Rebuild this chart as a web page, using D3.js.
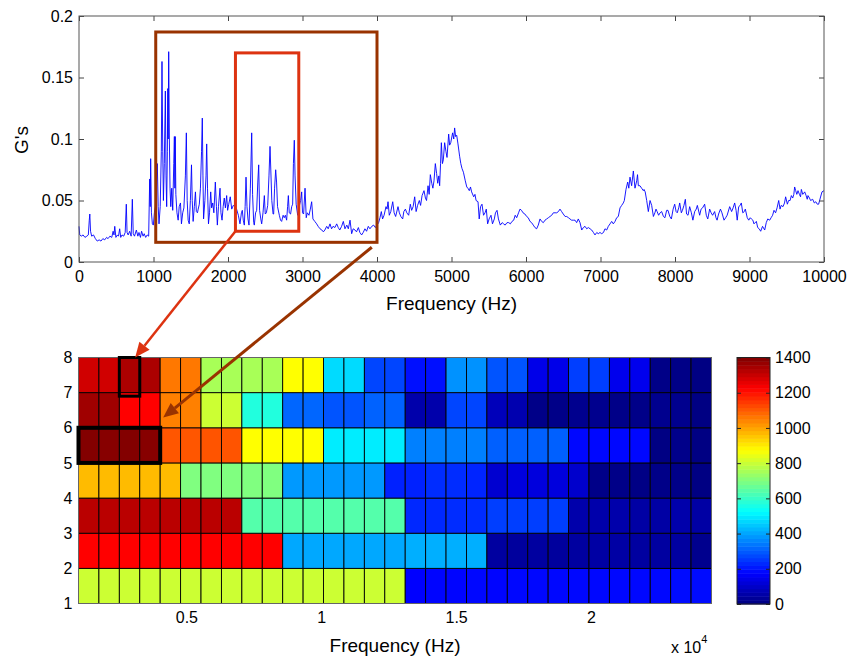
<!DOCTYPE html>
<html>
<head>
<meta charset="utf-8">
<script src="https://d3js.org/d3.v7.min.js"></script>
<style>
  body { margin: 0; background: #fff; }
  text { font-family: "Liberation Sans", Arial, sans-serif; fill: #000; }
</style>
</head>
<body>
<div id="chart"></div>
<script>
// ---- spectrum (top plot) ----
var specFreq = [
  0,10,30,55,80,105,125,138,145,155,
  170,195,220,245,270,295,320,345,370,390,
  415,440,458,470,480,495,515,530,546,560,
  577,600,620,635,645,660,680,700,716,728,
  745,770,790,805,825,840,860,875,895,915,
  935,949,956,962,972,985,998,1012,1025,1051,
  1063,1074,1090,1105,1114,1124,1133,1145,1159,1168,
  1177,1186,1192,1197,1204,1213,1222,1232,1245,1258,
  1272,1280,1287,1292,1300,1315,1331,1345,1362,1375,
  1392,1408,1428,1441,1452,1465,1480,1495,1510,1520,
  1532,1548,1563,1575,1590,1600,1615,1630,1645,1655,
  1664,1672,1690,1705,1714,1725,1738,1752,1768,1780,
  1795,1810,1830,1845,1857,1872,1893,1905,1920,1935,
  1950,1965,1982,1995,2010,2030,2050,2070,2094,2115,
  2139,2161,2180,2192,2205,2219,2230,2242,2255,2268,
  2282,2300,2318,2330,2345,2353,2370,2385,2400,2412,
  2424,2440,2452,2470,2488,2500,2515,2533,2550,2564,
  2575,2588,2605,2613,2625,2640,2652,2665,2689,2705,
  2720,2740,2755,2770,2787,2800,2810,2822,2840,2855,
  2868,2878,2890,2900,2915,2935,2955,2975,2989,3000,
  3015,3034,3050,3065,3087,3105,3123,3140,3165,3190,
  3210,3235,3260,3280,3300,3325,3345,3369,3390,3410,
  3435,3459,3480,3500,3525,3548,3570,3595,3615,3638,
  3660,3680,3705,3725,3750,3770,3794,3815,3838,3860,
  3883,3905,3930,3955,3978,4000,4022,4040,4058,4075,
  4095,4121,4135,4148,4165,4185,4211,4230,4250,4282,
  4300,4320,4345,4360,4381,4400,4425,4447,4465,4485,
  4506,4525,4545,4568,4585,4605,4631,4650,4665,4685,
  4700,4716,4735,4750,4765,4783,4800,4815,4830,4841,
  4853,4864,4878,4890,4908,4925,4940,4962,4975,4990,
  5015,5030,5042,5055,5070,5087,5109,5125,5141,5160,
  5185,5205,5220,5239,5255,5270,5298,5315,5330,5356,
  5372,5390,5409,5430,5450,5467,5485,5505,5530,5550,
  5575,5590,5611,5630,5655,5680,5700,5720,5745,5768,
  5790,5812,5835,5855,5875,5900,5919,5940,5960,5985,
  6009,6030,6054,6075,6098,6120,6143,6165,6188,6210,
  6233,6255,6278,6300,6322,6345,6367,6390,6412,6435,
  6456,6478,6500,6525,6546,6570,6590,6612,6635,6658,
  6680,6702,6725,6748,6770,6792,6815,6837,6860,6882,
  6905,6926,6950,6970,6993,7016,7040,7060,7083,7105,
  7128,7150,7172,7195,7217,7239,7262,7284,7306,7320,
  7342,7365,7380,7396,7418,7441,7463,7486,7497,7508,
  7530,7552,7575,7584,7600,7620,7642,7665,7687,7710,
  7730,7745,7760,7780,7800,7821,7845,7865,7888,7906,
  7930,7951,7975,7996,8015,8030,8050,8063,8085,8100,
  8120,8139,8155,8175,8197,8220,8240,8264,8285,8300,
  8331,8350,8370,8398,8420,8440,8465,8485,8505,8532,
  8550,8565,8585,8610,8630,8658,8680,8700,8734,8760,
  8780,8801,8820,8835,8855,8875,8890,8910,8930,8944,
  8970,8990,9010,9025,9045,9060,9092,9110,9130,9150,
  9175,9204,9225,9245,9271,9290,9310,9329,9350,9370,
  9392,9410,9425,9450,9470,9485,9508,9525,9545,9562,
  9580,9595,9606,9620,9635,9651,9670,9685,9696,9715,
  9730,9741,9760,9775,9785,9805,9820,9848,9870,9890,
  9910,9928,9950,9973,10000
];
var specG = [
  .029,.022,.021,.022,.020,.021,.022,.034,.039,.025,
  .021,.022,.019,.017,.018,.017,.019,.018,.020,.019,
  .021,.020,.025,.022,.029,.020,.022,.021,.027,.020,
  .022,.021,.024,.047,.024,.022,.025,.021,.051,.023,
  .021,.026,.021,.024,.020,.025,.021,.023,.020,.022,
  .021,.0675,.045,.084,.040,.031,.030,.040,.045,.080,
  .045,.031,.045,.090,.163,.090,.050,.080,.139,.070,
  .045,.090,.141,.100,.171,.100,.060,.045,.060,.042,
  .080,.102,.060,.102,.055,.040,.034,.045,.048,.031,
  .040,.044,.070,.105,.050,.034,.031,.050,.079,.050,
  .033,.045,.057,.041,.040,.043,.047,.060,.090,.117,
  .070,.035,.050,.070,.096,.060,.031,.040,.057,.044,
  .048,.040,.065,.045,.030,.045,.060,.040,.034,.045,
  .052,.044,.054,.042,.047,.053,.043,.046,.045,.043,
  .038,.031,.040,.042,.034,.030,.045,.069,.045,.035,
  .030,.060,.105,.055,.032,.030,.040,.042,.065,.079,
  .042,.035,.031,.040,.054,.039,.040,.046,.070,.094,
  .074,.050,.039,.039,.060,.075,.065,.045,.038,.034,
  .033,.038,.036,.038,.034,.045,.054,.040,.039,.045,
  .047,.080,.099,.070,.047,.038,.045,.050,.057,.040,
  .039,.060,.036,.040,.038,.043,.049,.035,.033,.031,
  .029,.027,.026,.0245,.026,.029,.027,.031,.027,.029,
  .028,.031,.028,.026,.029,.033,.027,.030,.027,.034,
  .023,.027,.026,.0245,.028,.024,.022,.024,.027,.025,
  .029,.027,.029,.030,.028,.030,.032,.036,.041,.035,
  .038,.045,.043,.049,.038,.041,.049,.040,.037,.045,
  .040,.037,.035,.041,.043,.040,.038,.047,.042,.045,
  .053,.041,.046,.050,.046,.054,.058,.052,.050,.062,
  .055,.071,.064,.060,.066,.080,.072,.064,.070,.062,
  .080,.097,.080,.083,.097,.090,.085,.104,.095,.097,
  .105,.100,.109,.102,.103,.096,.086,.080,.076,.073,
  .066,.061,.060,.058,.061,.057,.053,.055,.050,.049,
  .035,.045,.047,.038,.040,.043,.031,.035,.038,.031,
  .035,.040,.042,.035,.030,.032,.031,.030,.032,.032,
  .031,.033,.034,.038,.036,.040,.043,.042,.040,.039,
  .037,.036,.033,.032,.030,.028,.027,.030,.035,.033,
  .032,.034,.035,.036,.037,.038,.040,.040,.040,.041,
  .043,.041,.039,.037,.037,.036,.035,.034,.034,.034,
  .032,.035,.032,.026,.028,.029,.027,.028,.027,.026,
  .024,.022,.024,.023,.024,.023,.024,.027,.026,.029,
  .031,.033,.031,.033,.036,.037,.044,.046,.048,.050,
  .059,.065,.060,.069,.062,.074,.060,.066,.071,.062,
  .062,.060,.058,.059,.057,.050,.041,.050,.046,.037,
  .040,.043,.041,.038,.040,.041,.037,.036,.042,.042,
  .037,.035,.043,.047,.041,.040,.044,.048,.040,.042,
  .046,.051,.039,.038,.045,.040,.034,.041,.043,.046,
  .038,.043,.044,.047,.038,.035,.043,.040,.038,.041,
  .036,.034,.039,.043,.040,.034,.036,.038,.045,.041,
  .044,.048,.042,.034,.045,.046,.048,.040,.041,.043,
  .036,.034,.036,.035,.034,.031,.033,.028,.027,.025,
  .029,.026,.032,.035,.034,.036,.038,.042,.040,.044,
  .050,.043,.046,.045,.048,.053,.047,.050,.050,.054,
  .052,.055,.061,.058,.055,.058,.055,.053,.059,.055,
  .056,.057,.054,.051,.054,.052,.050,.051,.048,.049,
  .047,.047,.052,.057,.058
];
var topXTicks = [0,1000,2000,3000,4000,5000,6000,7000,8000,9000,10000];
var topYTicks = [0,0.05,0.1,0.15,0.2];

// ---- heat map (bottom plot): one array per band, columns left to right ----
var heatStartHz = 1000;
var heatStepHz = 757;
var band1 = [805,805,805,805,805,805,805,805,805,805,805,805,805,805,805,805,
             175,180,180,185,180,185,185,185,185,185,185,185,185,190,190];
var band2 = [1225,1225,1225,1225,1225,1225,1225,1225,1225,1225,405,405,405,405,405,405,
             415,415,415,415,45,40,45,40,45,50,50,45,45,45,20];
var band3 = [1320,1320,1320,1320,1320,1320,1320,1320,640,640,640,640,640,640,640,640,
             230,230,235,235,260,260,260,260,60,60,60,50,50,60,50];
var band4 = [968,968,968,968,968,700,700,700,700,700,385,385,385,385,385,220,
             220,235,235,225,110,128,128,128,105,12,12,8,12,12,5];
var band5 = [1395,1390,1395,1390,1107,1107,1110,1110,875,875,875,875,500,500,500,500,
             350,350,350,350,307,307,307,307,185,185,185,185,5,15,5];
var band6 = [1355,1355,1225,1225,1050,1050,805,805,570,570,315,315,290,290,310,310,
             60,60,270,270,80,65,12,12,20,20,12,12,20,20,5];
var band7 = [1290,1290,1340,1340,1060,1060,755,755,755,755,875,875,475,475,270,270,
             195,195,375,375,290,290,145,145,260,260,150,150,10,10,5];
var bands = [band1, band2, band3, band4, band5, band6, band7];
var heatXTicks = [5000,10000,15000,20000];
var heatYTicks = [1,2,3,4,5,6,7,8];
var cbarTicks = [0,200,400,600,800,1000,1200,1400];

// ---- MATLAB jet ----
function jet(t){
    var c = function(v){ return Math.max(0, Math.min(1, v)); };
    var r = c(1.5 - Math.abs(4*t - 3)),
        g = c(1.5 - Math.abs(4*t - 2)),
        b = c(1.5 - Math.abs(4*t - 1));
    return d3.rgb(r*255, g*255, b*255).toString();
}
var cmax = 1400;

var svg = d3.select("#chart").append("svg")
    .attr("width", 849).attr("height", 658);

// ================= top plot =================
var xTop = d3.scaleLinear().domain([0,10000]).range([79,824]);
var yTop = d3.scaleLinear().domain([0,0.2]).range([262,16]);

var line = d3.line()
    .x(function(d,i){ return xTop(specFreq[i]); })
    .y(function(d){ return yTop(d); });

svg.append("path")
    .datum(specG)
    .attr("d", line)
    .attr("fill", "none")
    .attr("stroke", "#0000ff")
    .attr("stroke-width", 0.9)
    .attr("stroke-linejoin", "round");

var topAxisStyle = function(g){
    g.select(".domain").remove();
    g.selectAll(".tick line").attr("stroke", "#444");
    g.selectAll("text").style("font-size", "16px").attr("fill", "#000");
};
svg.append("g").attr("transform", "translate(0,262)")
    .call(d3.axisBottom(xTop).tickValues(topXTicks).tickSize(-5).tickPadding(9).tickFormat(d3.format("d")))
    .call(topAxisStyle);
svg.append("g").attr("transform", "translate(0,16)")
    .call(d3.axisTop(xTop).tickValues(topXTicks).tickSize(-5).tickFormat(""))
    .call(topAxisStyle);
svg.append("g").attr("transform", "translate(79,0)")
    .call(d3.axisLeft(yTop).tickValues(topYTicks).tickSize(-5).tickPadding(6)
        .tickFormat(function(d){ return d === 0 ? "0" : String(+d.toFixed(2)); }))
    .call(topAxisStyle);
svg.append("g").attr("transform", "translate(824,0)")
    .call(d3.axisRight(yTop).tickValues(topYTicks).tickSize(-5).tickFormat(""))
    .call(topAxisStyle);
svg.append("rect")
    .attr("x", xTop(0)).attr("y", yTop(0.2))
    .attr("width", xTop(10000) - xTop(0)).attr("height", yTop(0) - yTop(0.2))
    .attr("fill", "none").attr("stroke", "#555").attr("stroke-width", 1);

svg.append("text")
    .attr("x", (xTop(0) + xTop(10000))/2).attr("y", 310)
    .attr("text-anchor", "middle").style("font-size", "19px")
    .text("Frequency (Hz)");
svg.append("text")
    .attr("transform", "translate(28,140) rotate(-90)")
    .attr("text-anchor", "middle").style("font-size", "19px")
    .text("G's");

// ================= heat map =================
var heatX = d3.scaleLinear()
    .domain([heatStartHz, heatStartHz + heatStepHz*band1.length])
    .range([78.5, 711.5]);
var heatY = d3.scaleLinear().domain([1,8]).range([603.5,357.5]);

var cells = [];
bands.forEach(function(row, r){
    row.forEach(function(v, c){
        cells.push({band: r + 1, col: c, value: v});
    });
});

svg.append("g").selectAll("rect")
    .data(cells)
    .enter().append("rect")
    .attr("x", function(d){ return heatX(heatStartHz + d.col*heatStepHz); })
    .attr("y", function(d){ return heatY(d.band + 1); })
    .attr("width", heatX(heatStartHz + heatStepHz) - heatX(heatStartHz))
    .attr("height", heatY(1) - heatY(2))
    .attr("fill", function(d){ return jet(d.value / cmax); })
    .attr("stroke", "#000")
    .attr("stroke-width", 0.9);

svg.append("rect")
    .attr("x", heatX.range()[0]).attr("y", heatY(8))
    .attr("width", heatX.range()[1] - heatX.range()[0]).attr("height", heatY(1) - heatY(8))
    .attr("fill", "none").attr("stroke", "#666").attr("stroke-width", 1);

var heatAxisStyle = function(g){
    g.select(".domain").remove();
    g.selectAll("text").style("font-size", "16px").attr("fill", "#000");
};
svg.append("g").attr("transform", "translate(0,603.5)")
    .call(d3.axisBottom(heatX).tickValues(heatXTicks).tickSize(0).tickPadding(8)
        .tickFormat(function(d){ return String(d/10000); }))
    .call(heatAxisStyle);
svg.append("g").attr("transform", "translate(78.5,0)")
    .call(d3.axisLeft(heatY).tickValues(heatYTicks).tickSize(0).tickPadding(6).tickFormat(d3.format("d")))
    .call(heatAxisStyle);

svg.append("text")
    .attr("x", (heatX.range()[0] + heatX.range()[1])/2).attr("y", 652)
    .attr("text-anchor", "middle").style("font-size", "19px")
    .text("Frequency (Hz)");
var exp = svg.append("text").attr("x", 671).attr("y", 653).style("font-size", "16px");
exp.append("tspan").text("x 10");
exp.append("tspan").attr("dy", -10).style("font-size", "11px").text("4");

// highlight boxes in heat map
svg.append("rect")
    .attr("x", heatX(heatStartHz + 2*heatStepHz)).attr("y", heatY(8))
    .attr("width", heatX(heatStartHz + heatStepHz) - heatX(heatStartHz))
    .attr("height", heatY(6.9) - heatY(8))
    .attr("fill", "none").attr("stroke", "#000").attr("stroke-width", 3);
svg.append("rect")
    .attr("x", heatX(heatStartHz)).attr("y", heatY(6))
    .attr("width", heatX(heatStartHz + 4*heatStepHz) - heatX(heatStartHz))
    .attr("height", heatY(5) - heatY(6))
    .attr("fill", "none").attr("stroke", "#000").attr("stroke-width", 4);

// ================= colorbar =================
var cbY = d3.scaleLinear().domain([0,cmax]).range([604,357.5]);
var cbX0 = 737, cbX1 = 770;
var steps = d3.range(64);
svg.append("g").selectAll("rect")
    .data(steps)
    .enter().append("rect")
    .attr("x", cbX0)
    .attr("y", function(i){ return cbY((i+1)/64*cmax); })
    .attr("width", cbX1 - cbX0)
    .attr("height", function(i){ return cbY(i/64*cmax) - cbY((i+1)/64*cmax) + 0.5; })
    .attr("fill", function(i){ return jet((i+0.5)/64); });
svg.append("rect")
    .attr("x", cbX0).attr("y", cbY(cmax))
    .attr("width", cbX1 - cbX0).attr("height", cbY(0) - cbY(cmax))
    .attr("fill", "none").attr("stroke", "#222").attr("stroke-width", 1);
svg.append("g").attr("transform", "translate(" + cbX1 + ",0)")
    .call(d3.axisRight(cbY).tickValues(cbarTicks).tickSize(-4).tickPadding(5).tickFormat(d3.format("d")))
    .call(function(g){
        g.select(".domain").remove();
        g.selectAll(".tick line").attr("stroke", "#222");
        g.selectAll("text").style("font-size", "16px").attr("fill", "#000");
    });
svg.append("g").attr("transform", "translate(" + cbX0 + ",0)")
    .call(d3.axisLeft(cbY).tickValues(cbarTicks).tickSize(-4).tickFormat(""))
    .call(function(g){
        g.select(".domain").remove();
        g.selectAll(".tick line").attr("stroke", "#222");
    });

// ================= zoom annotations =================
svg.append("rect")
    .attr("x", xTop(1030)).attr("y", yTop(0.187))
    .attr("width", xTop(4000) - xTop(1030)).attr("height", yTop(0.016) - yTop(0.187))
    .attr("fill", "none").attr("stroke", "#993300").attr("stroke-width", 3);
svg.append("rect")
    .attr("x", xTop(2100)).attr("y", yTop(0.170))
    .attr("width", xTop(2950) - xTop(2100)).attr("height", yTop(0.025) - yTop(0.170))
    .attr("fill", "none").attr("stroke", "#dd3311").attr("stroke-width", 3);

function arrow(x1, y1, x2, y2, color, w){
    var dx = x2 - x1, dy = y2 - y1, L = Math.hypot(dx, dy);
    var ux = dx/L, uy = dy/L, hl = 15, hw = 6.5;
    var bx = x2 - ux*hl, by = y2 - uy*hl;
    svg.append("line")
        .attr("x1", x1).attr("y1", y1).attr("x2", bx).attr("y2", by)
        .attr("stroke", color).attr("stroke-width", w);
    svg.append("path")
        .attr("d", "M" + x2 + "," + y2 +
                   "L" + (bx - uy*hw) + "," + (by + ux*hw) +
                   "L" + (bx + uy*hw) + "," + (by - ux*hw) + "Z")
        .attr("fill", color);
}
arrow(xTop(2100), yTop(0.025), heatX(3100), heatY(8.0), "#dd3311", 2.5);
arrow(xTop(3930), yTop(0.012), heatX(4140), heatY(6.29), "#993300", 3);
</script>
</body>
</html>
